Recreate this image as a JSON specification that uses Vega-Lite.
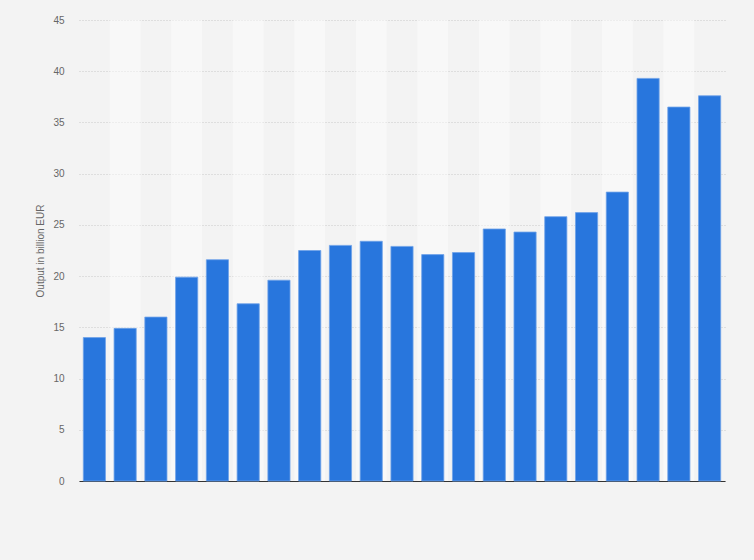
{
  "$schema": "https://vega.github.io/schema/vega-lite/v6.json",
  "autosize": {"type": "none"},
  "width": 646,
  "height": 461,
  "padding": {"left": 79, "top": 20, "right": 29, "bottom": 79},
  "background": "#f3f3f3",
  "config": {
    "view": {"stroke": null},
    "font": "Liberation Sans",
    "axis": {"labelFont": "Liberation Sans", "titleFont": "Liberation Sans"}
  },
  "data": {
    "values": [
      {"year": 2002, "output": 14.0},
      {"year": 2003, "output": 14.9},
      {"year": 2004, "output": 16.0},
      {"year": 2005, "output": 19.9},
      {"year": 2006, "output": 21.6},
      {"year": 2007, "output": 17.3},
      {"year": 2008, "output": 19.6},
      {"year": 2009, "output": 22.5},
      {"year": 2010, "output": 23.0},
      {"year": 2011, "output": 23.4},
      {"year": 2012, "output": 22.9},
      {"year": 2013, "output": 22.1},
      {"year": 2014, "output": 22.3},
      {"year": 2015, "output": 24.6},
      {"year": 2016, "output": 24.3},
      {"year": 2017, "output": 25.8},
      {"year": 2018, "output": 26.2},
      {"year": 2019, "output": 28.2},
      {"year": 2020, "output": 39.3},
      {"year": 2021, "output": 36.5},
      {"year": 2022, "output": 37.6}
    ]
  },
  "encoding": {
    "x": {
      "field": "year",
      "type": "ordinal",
      "scale": {"paddingInner": 0.28, "paddingOuter": 0.14},
      "axis": {
        "title": null,
        "labels": false,
        "ticks": false,
        "domainColor": "#333333",
        "domainWidth": 1
      }
    }
  },
  "layer": [
    {
      "transform": [{"filter": "datum.year % 2 == 1"}],
      "mark": {"type": "bar", "color": "#ffffff", "opacity": 0.45, "width": {"band": 1.389}},
      "encoding": {
        "y": {"datum": 0, "type": "quantitative", "scale": {"domain": [0, 45], "nice": false}},
        "y2": {"datum": 45}
      }
    },
    {
      "mark": {"type": "bar", "color": "#2876dd", "stroke": "#6ea2e8", "strokeWidth": 0.8},
      "encoding": {
        "y": {
          "field": "output",
          "type": "quantitative",
          "scale": {"domain": [0, 45], "nice": false},
          "axis": {
            "title": "Output in billion EUR",
            "titleColor": "#666666",
            "titleFontSize": 10,
            "titleFontWeight": "normal",
            "titlePadding": 7,
            "values": [0, 5, 10, 15, 20, 25, 30, 35, 40, 45],
            "labelColor": "#666666",
            "labelFontSize": 10,
            "labelPadding": 15,
            "ticks": false,
            "domain": false,
            "grid": true,
            "gridColor": "#c8c8c8",
            "gridDash": [1, 2],
            "gridWidth": 1
          }
        }
      }
    }
  ]
}
